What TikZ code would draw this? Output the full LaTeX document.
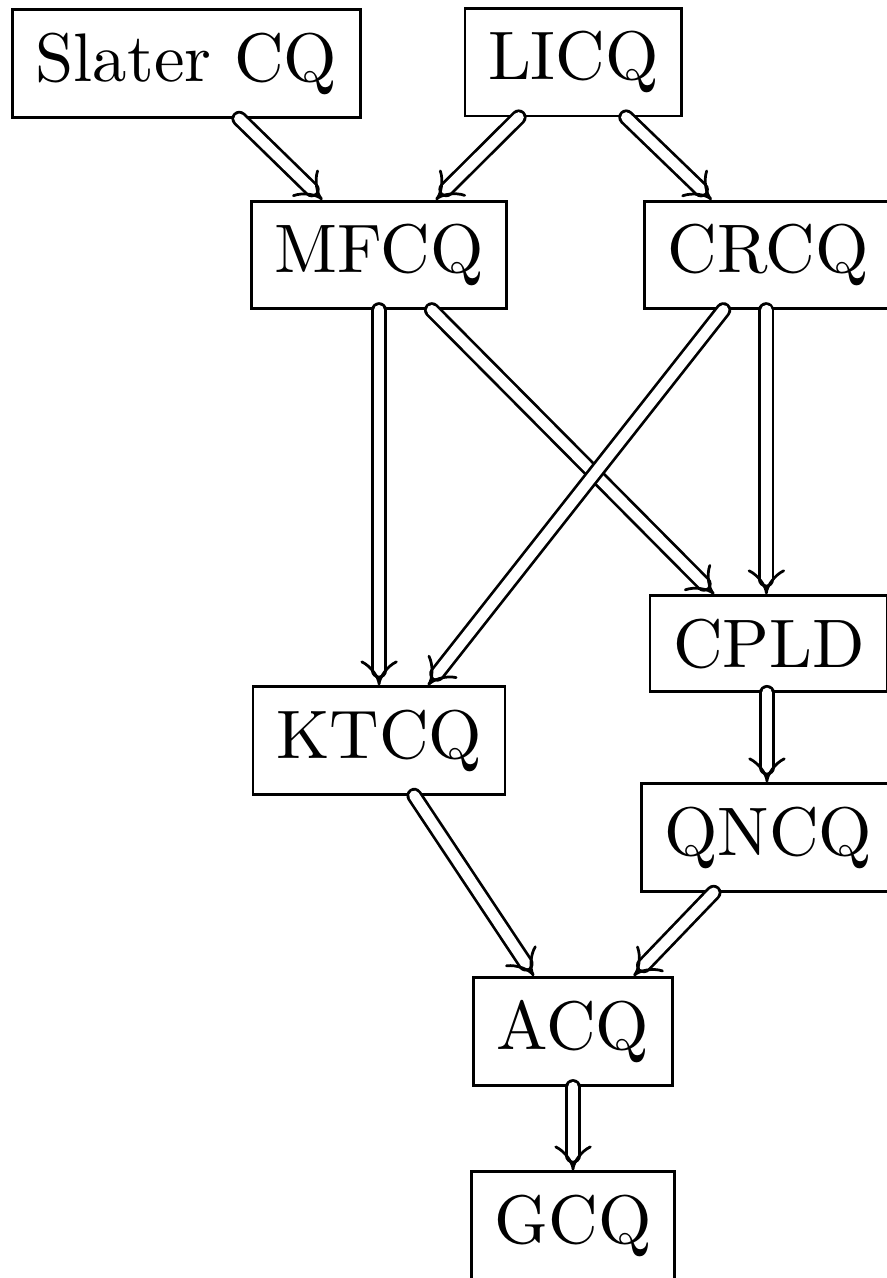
\documentclass[tikz,border=0pt]{standalone}
\usetikzlibrary{arrows.meta}

\begin{document}
\begin{tikzpicture}[
  >={Implies},
  cq/.style={draw, line width=0.4pt, inner sep=0.3333em},
  impl/.style={->, double, double distance=1.5pt, line width=0.4pt, line cap=round},
]

% Bounding box
\useasboundingbox (0,0) rectangle (4.532,-6.537);

% Constraint qualifications
\node[cq] (slater) at (0.954,-0.325) {Slater CQ};
\node[cq] (licq)   at (2.933,-0.318) {LICQ};
\node[cq] (mfcq)   at (1.939,-1.304) {MFCQ};
\node[cq] (crcq)   at (3.930,-1.304) {CRCQ};
\node[cq] (cpld)   at (3.933,-3.292) {CPLD};
\node[cq] (ktcq)   at (1.939,-3.788) {KTCQ};
\node[cq] (qncq)   at (3.930,-4.284) {QNCQ};
\node[cq] (acq)    at (2.931,-5.276) {ACQ};
\node[cq] (gcq)    at (2.931,-6.269) {GCQ};

% Implications
\draw[impl] ([xshift=0.27cm]slater.south) -- ([xshift=-0.29cm]mfcq.north);
\draw[impl] ([xshift=-0.28cm]licq.south) -- ([xshift=0.29cm]mfcq.north);
\draw[impl] ([xshift=0.27cm]licq.south) -- ([xshift=-0.29cm]crcq.north);

\draw[impl] (mfcq.south) -- (mfcq.south |- ktcq.north);
\draw[impl] ([xshift=0.27cm]mfcq.south) -- ([xshift=-0.28cm]cpld.north);
\draw[impl] ([xshift=-0.23cm]crcq.south) -- ([xshift=0.25cm]ktcq.north);
\draw[impl] ([xshift=-0.01cm]crcq.south) -- ([xshift=-0.01cm]crcq.south |- cpld.north);

\draw[impl] ([xshift=-0.01cm]cpld.south) -- ([xshift=-0.01cm]cpld.south |- qncq.north);
\draw[impl] ([xshift=0.18cm]ktcq.south) -- ([xshift=-0.2cm]acq.north);
\draw[impl] ([xshift=-0.28cm]qncq.south) -- ([xshift=0.31cm]acq.north);
\draw[impl] (acq.south) -- (gcq.north);

\end{tikzpicture}
\end{document}
